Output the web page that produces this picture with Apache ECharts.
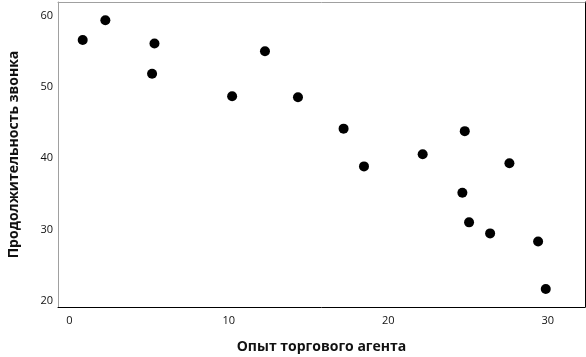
<!DOCTYPE html>
<html>
<head>
<meta charset="utf-8">
<script src="https://cdn.jsdelivr.net/npm/echarts@6/dist/echarts.min.js"></script>
<style>
html,body{margin:0;padding:0;background:#fff;}
#c{width:586px;height:357px;}
</style>
</head>
<body>
<div id="c"></div>
<script>
const experience = [0.84, 2.26, 5.34, 5.19, 10.21, 12.27, 14.34, 17.2, 18.48, 24.8, 22.16, 27.6, 24.65, 25.07, 26.39, 29.4, 29.88];
const callDuration = [56.6, 59.35, 56.1, 51.85, 48.7, 55.0, 48.55, 44.15, 38.85, 43.8, 40.55, 39.3, 35.15, 31.0, 29.45, 28.3, 21.65];
const xTicks = [0, 10, 20, 30];
const yTicks = [20, 30, 40, 50, 60];
const xTitle = 'Опыт торгового агента';
const yTitle = 'Продолжительность звонка';

const points = experience.map((x, i) => [x, callDuration[i]]);
const X_MIN = -0.71, X_MAX = 32.34, Y_MIN = 19.12, Y_MAX = 61.92;
const labelFont = {fontFamily: 'Open Sans', fontSize: 11, color: '#111'};

const chart = echarts.init(document.getElementById('c'), null, {renderer: 'canvas'});
chart.setOption({
  animation: false,
  backgroundColor: '#fff',
  grid: {left: 58, right: 1, top: 2, bottom: 50, containLabel: false, outerBoundsMode: 'none'},
  xAxis: [{
    type: 'value', min: X_MIN, max: X_MAX, position: 'bottom',
    name: xTitle, nameLocation: 'middle', nameGap: 33,
    nameTextStyle: {fontFamily: 'Open Sans', fontWeight: 'bold', fontSize: 14, color: '#111'},
    axisLine: {show: true, onZero: false, lineStyle: {color: '#000', width: 1}},
    axisTick: {show: false},
    splitLine: {show: false},
    axisLabel: Object.assign({customValues: xTicks, margin: 8}, labelFont)
  }, {
    type: 'value', min: X_MIN, max: X_MAX, position: 'top',
    axisLine: {show: true, onZero: false, lineStyle: {color: '#a0a0a0', width: 1}},
    axisTick: {show: false}, splitLine: {show: false}, axisLabel: {show: false}
  }],
  yAxis: [{
    type: 'value', min: Y_MIN, max: Y_MAX, position: 'left',
    name: yTitle, nameLocation: 'middle', nameGap: 37, nameRotate: 90,
    nameTextStyle: {fontFamily: 'Open Sans', fontWeight: 'bold', fontSize: 14, color: '#111'},
    axisLine: {show: true, onZero: false, lineStyle: {color: '#a0a0a0', width: 1}},
    axisTick: {show: false},
    splitLine: {show: false},
    axisLabel: Object.assign({customValues: yTicks, margin: 5}, labelFont)
  }, {
    type: 'value', min: Y_MIN, max: Y_MAX, position: 'right',
    axisLine: {show: true, onZero: false, lineStyle: {color: '#000', width: 1}},
    axisTick: {show: false}, splitLine: {show: false}, axisLabel: {show: false}
  }],
  series: [{
    type: 'scatter',
    xAxisIndex: 0, yAxisIndex: 0,
    data: points,
    symbol: 'circle',
    symbolSize: 10,
    itemStyle: {color: '#000', opacity: 1}
  }]
});
</script>
</body>
</html>
